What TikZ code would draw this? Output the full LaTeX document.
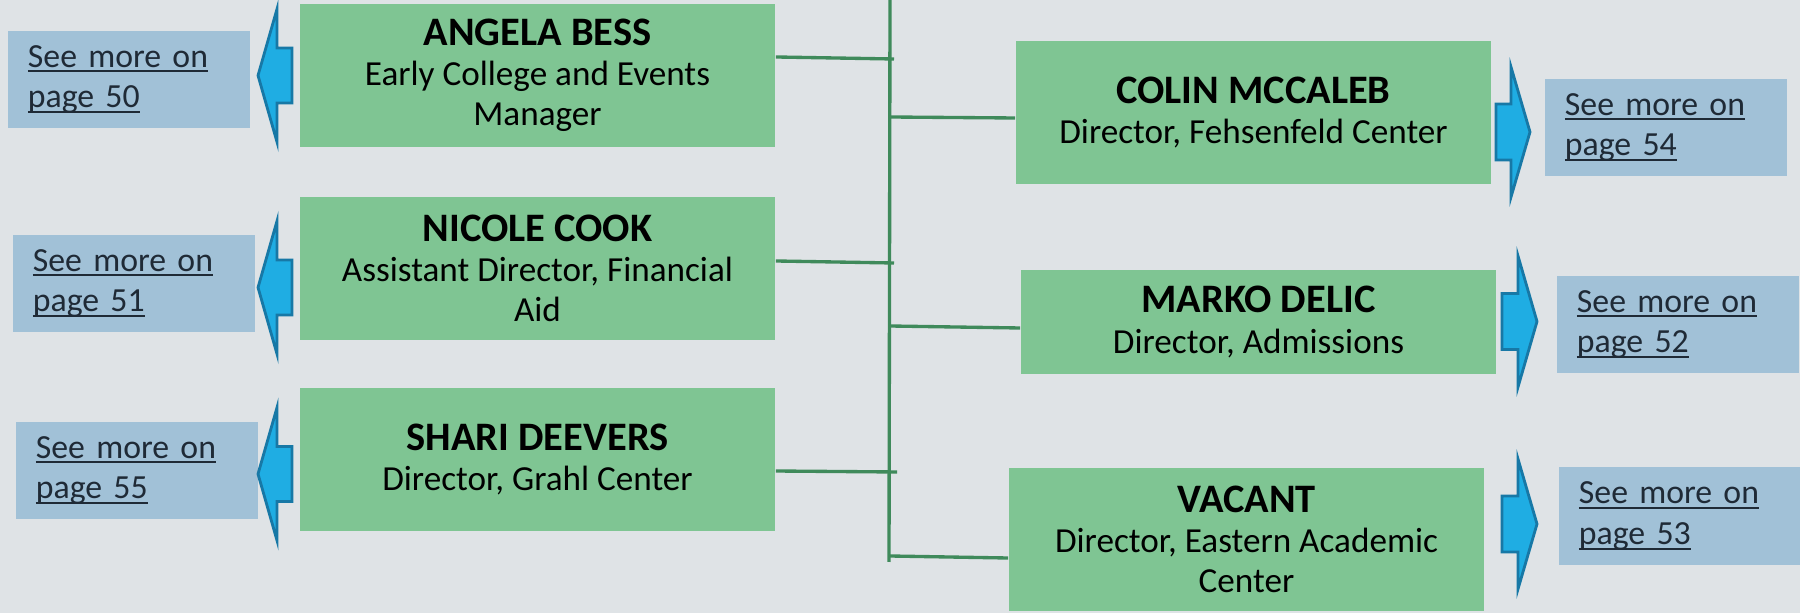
\documentclass[tikz,border=0pt]{standalone}
\usepackage{fontspec}
\setmainfont{Carlito}
\definecolor{bggray}{HTML}{DFE3E6}
\definecolor{staffgreen}{HTML}{7FC593}
\definecolor{linkblue}{HTML}{A1C1D7}
\definecolor{linktext}{HTML}{1F2A36}
\definecolor{trunkgreen}{HTML}{3F8A5B}
\definecolor{arrowblue}{HTML}{1FADE3}
\definecolor{arrowedge}{HTML}{1778A6}
\tikzset{
  person/.style={fill=staffgreen, minimum width=4.75cm, minimum height=1.43cm,
    inner sep=0pt, align=center, font=\fontsize{10}{11.4}\selectfont},
  pageref/.style={fill=linkblue, minimum width=2.42cm, minimum height=0.97cm,
    inner sep=0pt, text width=2.02cm, align=left, text=linktext,
    font=\fontsize{9.6}{11.6}\selectfont},
  branch/.style={draw=trunkgreen, line width=0.95pt},
  blockarrow/.style={fill=arrowblue, draw=arrowedge, line width=0.8pt}
}
\newcommand{\staffname}[1]{{\fontsize{11.5}{12}\selectfont\bfseries #1}}
\newsavebox{\linkbox}
\newcommand{\linkline}[1]{\leavevmode\sbox{\linkbox}{#1}\rlap{\rule[-1.5pt]{\wd\linkbox}{0.55pt}}\usebox{\linkbox}}
\begin{document}
\begin{tikzpicture}[x=0.01cm, y=-0.01cm]
  \useasboundingbox[fill=bggray] (0,0) rectangle (1800,613);

  % trunk
  \coordinate (trunktop) at (890,0);
  \coordinate (trunkbot) at (889,562);
  \draw[branch] (trunktop) -- (trunkbot);

  % left column
  \node[person] (angela) at (537.5,75.5) {\staffname{ANGELA BESS}\\ Early College and Events\\ Manager};
  \node[person] (nicole) at (537.5,268.5) {\staffname{NICOLE COOK}\\ Assistant Director, Financial\\ Aid};
  \node[person] (shari) at (537.5,459.5) {\staffname{SHARI DEEVERS}\\ Director, Grahl Center};

  % right column
  \node[person] (colin) at (1253.5,112.5) {\staffname{COLIN MCCALEB}\\ Director, Fehsenfeld Center};
  \node[person, minimum height=1.04cm] (marko) at (1258.5,322) {\staffname{MARKO DELIC}\\ Director, Admissions};
  \node[person] (vacant) at (1246.5,539.5) {\staffname{VACANT}\\ Director, Eastern Academic\\ Center};

  % page links
  \node[pageref] (p50) at (129,79.5) {\linkline{See more on}\\ \linkline{page 50}};
  \node[pageref] (p51) at (134,283.5) {\linkline{See more on}\\ \linkline{page 51}};
  \node[pageref] (p55) at (137,470.5) {\linkline{See more on}\\ \linkline{page 55}};
  \node[pageref] (p54) at (1666,127.5) {\linkline{See more on}\\ \linkline{page 54}};
  \node[pageref] (p52) at (1678,324.5) {\linkline{See more on}\\ \linkline{page 52}};
  \node[pageref] (p53) at (1680,516) {\linkline{See more on}\\ \linkline{page 53}};

  % branches to the trunk
  \coordinate (ja) at (894,59);
  \coordinate (jn) at (894,263);
  \coordinate (js) at (897,472);
  \coordinate (jc) at (890,117);
  \coordinate (jm) at (890,326);
  \coordinate (jv) at (890,556);
  \draw[branch] ([yshift=0.185cm]angela.east) -- (ja);
  \draw[branch] ([yshift=0.075cm]nicole.east) -- (jn);
  \draw[branch] ([yshift=-0.115cm]shari.east) -- (js);
  \draw[branch] (jc) -- ([yshift=-0.055cm]colin.west);
  \draw[branch] (jm) -- ([yshift=-0.06cm]marko.west);
  \draw[branch] (jv) -- ([yshift=-0.185cm]vacant.west);

  % block arrows
  \foreach \y in {75.5, 287.5, 474}
    \draw[blockarrow] (258,\y) -- (277,{\y-66.5}) -- (277,{\y-27.5}) -- (292,{\y-27.5})
      -- (292,{\y+27.5}) -- (277,{\y+27.5}) -- (277,{\y+66.5}) -- cycle;
  \foreach \a/\b/\c/\y/\h in {1496/1511/1530/132/65, 1502/1518/1537/321.5/65.5, 1502/1518/1537/524/65}
    \draw[blockarrow] (\c,\y) -- (\b,{\y-\h}) -- (\b,{\y-28}) -- (\a,{\y-28})
      -- (\a,{\y+28}) -- (\b,{\y+28}) -- (\b,{\y+\h}) -- cycle;
\end{tikzpicture}
\end{document}
